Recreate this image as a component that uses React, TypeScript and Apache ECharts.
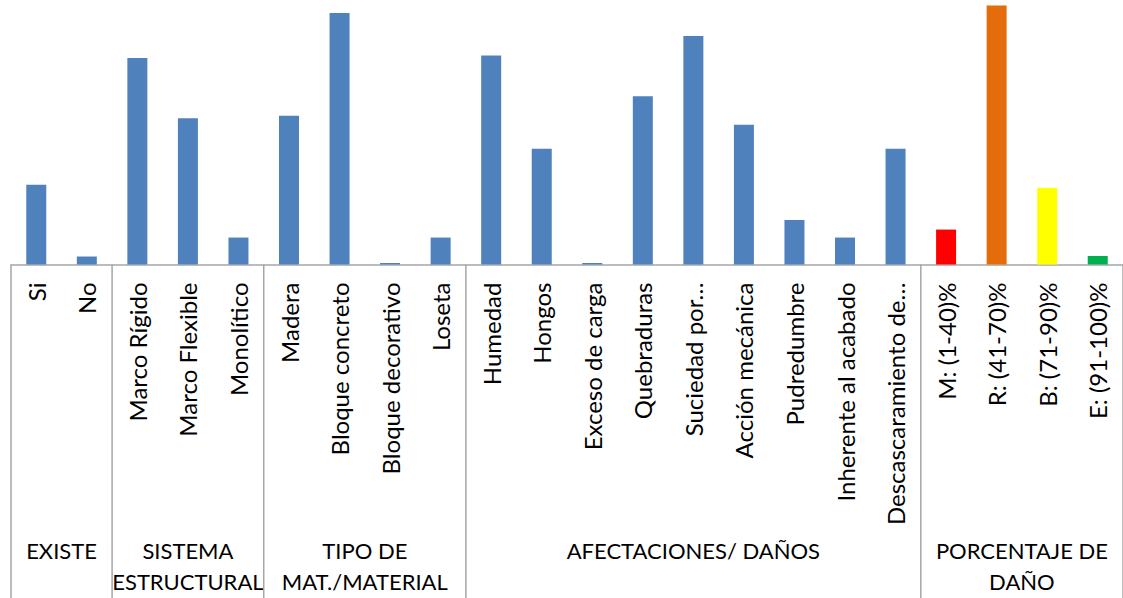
import React, { useEffect, useRef } from "react";
import * as echarts from "echarts";

const categories = [
  "Si", "No",
  "Marco Rígido", "Marco Flexible", "Monolítico",
  "Madera", "Bloque concreto", "Bloque decorativo", "Loseta",
  "Humedad", "Hongos", "Exceso de carga", "Quebraduras", "Suciedad por…",
  "Acción mecánica", "Pudredumbre", "Inherente al acabado", "Descascaramiento de…",
  "M: (1-40)%", "R: (41-70)%", "B: (71-90)%", "E: (91-100)%",
];

const values = [
  80, 8,
  207, 146.5, 27,
  149, 252, 1.5, 27,
  209.5, 116, 1.5, 168.5, 229, 140, 44.5, 27, 116,
  35, 259.5, 77, 8.5,
];

const barColors = [
  "#4F81BD", "#4F81BD",
  "#4F81BD", "#4F81BD", "#4F81BD",
  "#4F81BD", "#4F81BD", "#4F81BD", "#4F81BD",
  "#4F81BD", "#4F81BD", "#4F81BD", "#4F81BD", "#4F81BD", "#4F81BD", "#4F81BD", "#4F81BD", "#4F81BD",
  "#FF0000", "#E46C0A", "#FFFF00", "#00B050",
];

const groupNames = ["EXISTE", "SISTEMA\nESTRUCTURAL", "TIPO DE\nMAT./MATERIAL", "AFECTACIONES/ DAÑOS", "PORCENTAJE DE\nDAÑO"];
const groupSizes = [2, 3, 4, 9, 4];

const FONT = "Lato";

export default function App() {
  const ref = useRef<HTMLDivElement>(null);

  useEffect(() => {
    if (!ref.current) return;
    const chart = echarts.init(ref.current, null, { renderer: "svg" });
    chart.setOption({
      animation: false,
      grid: { left: 11, top: 0, width: 1117, height: 264.5, containLabel: false },
      xAxis: {
        type: "category",
        data: categories,
        axisTick: { show: false },
        axisLine: { lineStyle: { color: "#A6A6A6", width: 1.5 } },
        axisLabel: {
          interval: 0,
          rotate: 90,
          margin: 18,
          fontSize: 24,
          fontFamily: FONT,
          color: "#000",
        },
      },
      yAxis: { type: "value", min: 0, max: 265, show: false, splitLine: { show: false } },
      series: [
        {
          type: "bar",
          barWidth: 20,
          data: values.map((v, i) => ({ value: v, itemStyle: { color: barColors[i] } })),
        },
      ],
    });

    const c0 = chart.convertToPixel({ xAxisIndex: 0 }, categories[0]) as number;
    const c1 = chart.convertToPixel({ xAxisIndex: 0 }, categories[1]) as number;
    const bw = c1 - c0;
    const axisY = chart.convertToPixel({ yAxisIndex: 0 }, 0) as number;
    const graphics: any[] = [];
    let start = 0;
    groupSizes.forEach((n, g) => {
      const leftX = (chart.convertToPixel({ xAxisIndex: 0 }, categories[start]) as number) - bw / 2;
      const rightX = leftX + n * bw;
      graphics.push({
        type: "line",
        shape: { x1: leftX, y1: axisY, x2: leftX, y2: 598 },
        style: { stroke: "#A6A6A6", lineWidth: 1.5 },
      });
      if (g === groupSizes.length - 1) {
        graphics.push({
          type: "line",
          shape: { x1: rightX, y1: axisY, x2: rightX, y2: 598 },
          style: { stroke: "#A6A6A6", lineWidth: 1.5 },
        });
      }
      graphics.push({
        type: "text",
        x: (leftX + rightX) / 2,
        y: 535,
        style: {
          text: groupNames[g],
          font: `22px ${FONT}`,
          fill: "#000",
          align: "center",
          verticalAlign: "top",
          lineHeight: 31,
        },
      });
      start += n;
    });
    chart.setOption({ graphic: graphics });

    return () => chart.dispose();
  }, []);

  return (
    <div
      ref={ref}
      style={{ position: "fixed", left: 0, top: 0, width: 1123, height: 598, background: "#fff" }}
    />
  );
}
